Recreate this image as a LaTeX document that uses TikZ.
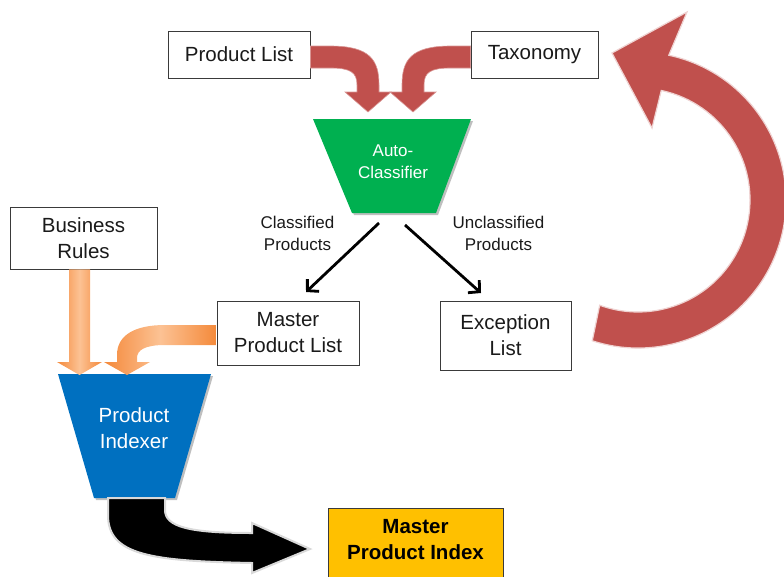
\documentclass[tikz,border=0pt]{standalone}
\usepackage{fontspec}
\setmainfont{Liberation Sans}
\usetikzlibrary{arrows.meta,calc}
\definecolor{redA}{HTML}{C0504D}
\definecolor{greenA}{HTML}{00B050}
\definecolor{blueA}{HTML}{0070C0}
\definecolor{yellowA}{HTML}{FFC000}
\definecolor{orangeD}{HTML}{F4893A}
\definecolor{orangeL}{HTML}{FCC294}
\definecolor{boxline}{HTML}{3A3A3A}
\definecolor{txt}{HTML}{1A1A1A}
\begin{document}
\begin{tikzpicture}[x=1pt,y=-1pt,
  box/.style={draw=boxline,line width=0.9pt,fill=white,inner sep=0pt,align=center,
    text=txt,font=\fontsize{20.5}{26}\selectfont},
  lbl/.style={align=center,text=txt,font=\fontsize{17}{22}\selectfont,inner sep=0pt},
  funneltxt/.style={align=center,text=white,inner sep=0pt},
  thinarrow/.style={line width=2.8pt,-{Straight Barb[length=8pt,width=17pt]}},
  fatred/.style={fill=redA,draw=redA!60!white,line width=0.6pt},
  fatorange/.style={left color=orangeD,right color=orangeD,middle color=orangeL,draw=none},
]
\useasboundingbox (0,0) rectangle (784,576);

% boxes
\node[box,minimum width=142pt,minimum height=47pt] (pl) at (239,54.5) {Product List};
\node[box,minimum width=127pt,minimum height=47pt] (tax) at (534.5,54.5) {Taxonomy};
\node[box,minimum width=147pt,minimum height=62pt] (br) at (83.5,238) {Business\\Rules};
\node[box,minimum width=142pt,minimum height=64pt] (mpl) at (288,333) {Master\\Product List};
\node[box,minimum width=131pt,minimum height=69pt] (exc) at (505.5,335.5) {Exception\\List};
\node[draw=boxline,line width=0.9pt,fill=yellowA,minimum width=175pt,minimum height=80pt,anchor=north,inner sep=0pt] (mpi) at (415.5,508) {};
\node[align=center,inner sep=0pt,text=black,font=\bfseries\fontsize{20.5}{26}\selectfont] (mpit) at (415.5,540) {Master\\Product Index};

% Auto-Classifier funnel
\fill[black!25] (315,121) -- (473,121) -- (438,215) -- (354,215) -- cycle;
\fill[greenA] (313,119) -- (471,119) -- (436,213) -- (352,213) -- cycle;
\node[funneltxt,font=\fontsize{17}{22}\selectfont] (ac) at (393,162) {Auto-\\Classifier};

% Product Indexer funnel
\fill[black!25] (60,376) -- (213,376) -- (177,500) -- (96,500) -- cycle;
\fill[blueA] (58,374) -- (211,374) -- (175,498) -- (94,498) -- cycle;
\node[funneltxt,font=\fontsize{20.5}{26}\selectfont] (pi) at (134,428) {Product\\Indexer};

% red arrows into the classifier
\path[fatred] ($(pl.east)+(0,-8.5)$) -- (330,46) .. controls (370,46) and (379,60) .. (379,85)
  -- (379,92) -- (391,92) -- (368,112) -- (345,92) -- (357,92) -- (357,85)
  .. controls (357,72) and (350,68) .. (330,68) -- ($(pl.east)+(0,13.5)$) -- cycle;
\path[fatred] ($(tax.west)+(0,-8.5)$) -- (451,46) .. controls (411,46) and (402,60) .. (402,85)
  -- (402,92) -- (390,92) -- (413,112) -- (436,92) -- (424,92) -- (424,85)
  .. controls (424,72) and (431,68) .. (451,68) -- ($(tax.west)+(0,13.5)$) -- cycle;

% thin black arrows
\coordinate (acl) at (379,223);
\coordinate (acr) at (405,225);
\coordinate (mplt) at (306,292);
\coordinate (exct) at (481,293);
\draw[thinarrow] (acl) -- (mplt);
\draw[thinarrow] (acr) -- (exct);
\node[lbl] (cl) at (297.5,233) {Classified\\Products};
\node[lbl] (ucl) at (498.5,233) {Unclassified\\Products};

% orange arrows into the indexer
\path[fatorange] (br.south -| 69,0) -- (69,362) -- (57,362) -- (79.5,375) -- (102,362) -- (90,362) -- (br.south -| 90,0) -- cycle;
\path[fatorange] ($(mpl.west)+(0,-8)$) -- (165,325) .. controls (135,325) and (117,335) .. (117,355)
  -- (117,362) -- (104,362) -- (127,375) -- (150,362) -- (137,362) -- (137,358)
  .. controls (137,350) and (145,345) .. (165,345) -- ($(mpl.west)+(0,12)$) -- cycle;

% big black output arrow
\path[fill=black,draw=black!15,line width=2pt] (108,498) -- (108,515) .. controls (108,555) and (150,561) .. (252,563)
  -- (252,573) -- (310,549) -- (252,523) -- (252,533) .. controls (190,533) and (165,527) .. (165,510)
  -- (165,498) -- cycle;

% big red loop arrow
\coordinate (cc) at (638,200);
\path[fatred,draw=redA!25!white,line width=1.2pt] ($(cc)+(108:148)$) arc[start angle=108,end angle=-78,radius=148]
  -- (687,12) -- (612,53) -- (652,128) -- ($(cc)+(-78:112)$)
  arc[start angle=-78,end angle=110,radius=112] -- cycle;
\end{tikzpicture}
\end{document}
